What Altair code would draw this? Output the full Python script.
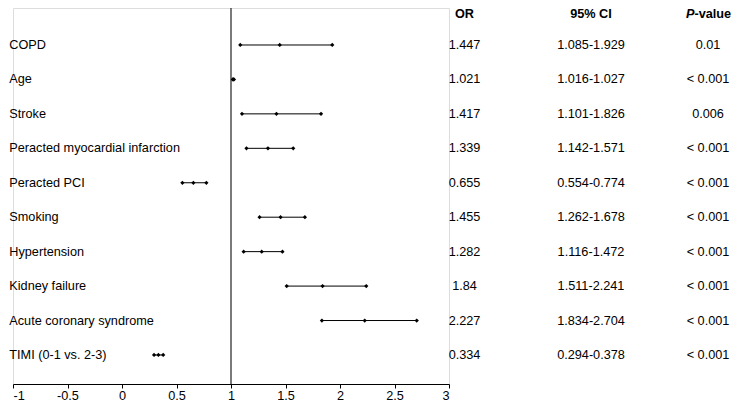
import altair as alt
import pandas as pd

labels = ["COPD", "Age", "Stroke", "Peracted myocardial infarction", "Peracted PCI",
          "Smoking", "Hypertension", "Kidney failure", "Acute coronary syndrome",
          "TIMI (0-1 vs. 2-3)"]
or_vals = [1.447, 1.021, 1.417, 1.339, 0.655, 1.455, 1.282, 1.84, 2.227, 0.334]
ci_low = [1.085, 1.016, 1.101, 1.142, 0.554, 1.262, 1.116, 1.511, 1.834, 0.294]
ci_high = [1.929, 1.027, 1.826, 1.571, 0.774, 1.678, 1.472, 2.241, 2.704, 0.378]
or_text = ["1.447", "1.021", "1.417", "1.339", "0.655", "1.455", "1.282", "1.84", "2.227", "0.334"]
p_text = ["0.01", "< 0.001", "0.006", "< 0.001", "< 0.001", "< 0.001", "< 0.001",
          "< 0.001", "< 0.001", "< 0.001"]
x_ticks = [-1, -0.5, 0, 0.5, 1, 1.5, 2, 2.5, 3]

rows = list(range(1, len(labels) + 1))
df = pd.DataFrame({
    "row": rows,
    "label": labels,
    "or": or_vals,
    "lo": ci_low,
    "hi": ci_high,
    "or_text": or_text,
    "ci_text": [f"{a:.3f}-{b:.3f}" for a, b in zip(ci_low, ci_high)],
    "p_text": p_text,
})
pts = pd.DataFrame({
    "row": rows * 3,
    "v": ci_low + or_vals + ci_high,
})

FONT = "Liberation Sans"
FS = 12.7
W, H = 436, 376

xs = alt.Scale(domain=[-1, 3], nice=False, zero=False)
ys = alt.Scale(domain=[-0.074, 10.843], nice=False, zero=False, reverse=True)

base = alt.Chart(df)

vline = alt.Chart(pd.DataFrame({"ref": [1]})).mark_rule(color="#333333", strokeWidth=1.3).encode(
    x=alt.X("ref:Q", scale=xs,
            axis=alt.Axis(values=x_ticks, labelExpr="'' + datum.value", title=None,
                          grid=False, domainColor="black", tickColor="black",
                          tickSize=4, labelPadding=1, labelFontSize=FS,
                          labelFont=FONT, labelColor="black", domainWidth=1)),
    y=alt.value(0), y2=alt.value(H))

ci = base.mark_rule(color="black", strokeWidth=1).encode(
    x=alt.X("lo:Q", scale=xs), x2="hi:Q",
    y=alt.Y("row:Q", scale=ys, axis=None))

points = alt.Chart(pts).mark_point(shape="diamond", filled=True, color="black", size=18, opacity=1).encode(
    x=alt.X("v:Q", scale=xs), y=alt.Y("row:Q", scale=ys, axis=None))

txt_kw = dict(font=FONT, fontSize=FS, color="black", baseline="middle")
lab = base.mark_text(align="left", **txt_kw).encode(
    x=alt.value(-3.7), y=alt.Y("row:Q", scale=ys, axis=None), text="label:N")
ort = base.mark_text(align="center", **txt_kw).encode(
    x=alt.value(451.5), y=alt.Y("row:Q", scale=ys, axis=None), text="or_text:N")
cit = base.mark_text(align="center", **txt_kw).encode(
    x=alt.value(578), y=alt.Y("row:Q", scale=ys, axis=None), text="ci_text:N")
pt = base.mark_text(align="center", **txt_kw).encode(
    x=alt.value(695), y=alt.Y("row:Q", scale=ys, axis=None), text="p_text:N")

hdr_kw = dict(font=FONT, fontSize=FS, color="black", baseline="middle", fontWeight="bold")
h_or = alt.Chart(pd.DataFrame({"t": ["OR"]})).mark_text(align="center", **hdr_kw).encode(
    x=alt.value(451.5), y=alt.value(6), text="t:N")
h_ci = alt.Chart(pd.DataFrame({"t": ["95% CI"]})).mark_text(align="center", **hdr_kw).encode(
    x=alt.value(578), y=alt.value(6), text="t:N")
h_p1 = alt.Chart(pd.DataFrame({"t": ["P"]})).mark_text(align="right", fontStyle="italic", **hdr_kw).encode(
    x=alt.value(681.5), y=alt.value(6), text="t:N")
h_p2 = alt.Chart(pd.DataFrame({"t": ["-value"]})).mark_text(align="left", **hdr_kw).encode(
    x=alt.value(681.5), y=alt.value(6), text="t:N")

chart = alt.layer(vline, ci, points, lab, ort, cit, pt, h_or, h_ci, h_p1, h_p2).properties(
    width=W, height=H,
    autosize=alt.AutoSizeParams(type="none"),
    padding={"left": 5, "right": 724 - 5 - W, "top": 0, "bottom": 393 - H},
).configure_view(stroke=None).configure(background="white")

chart.save("out.html", embed_options={"renderer": "svg", "actions": False})
